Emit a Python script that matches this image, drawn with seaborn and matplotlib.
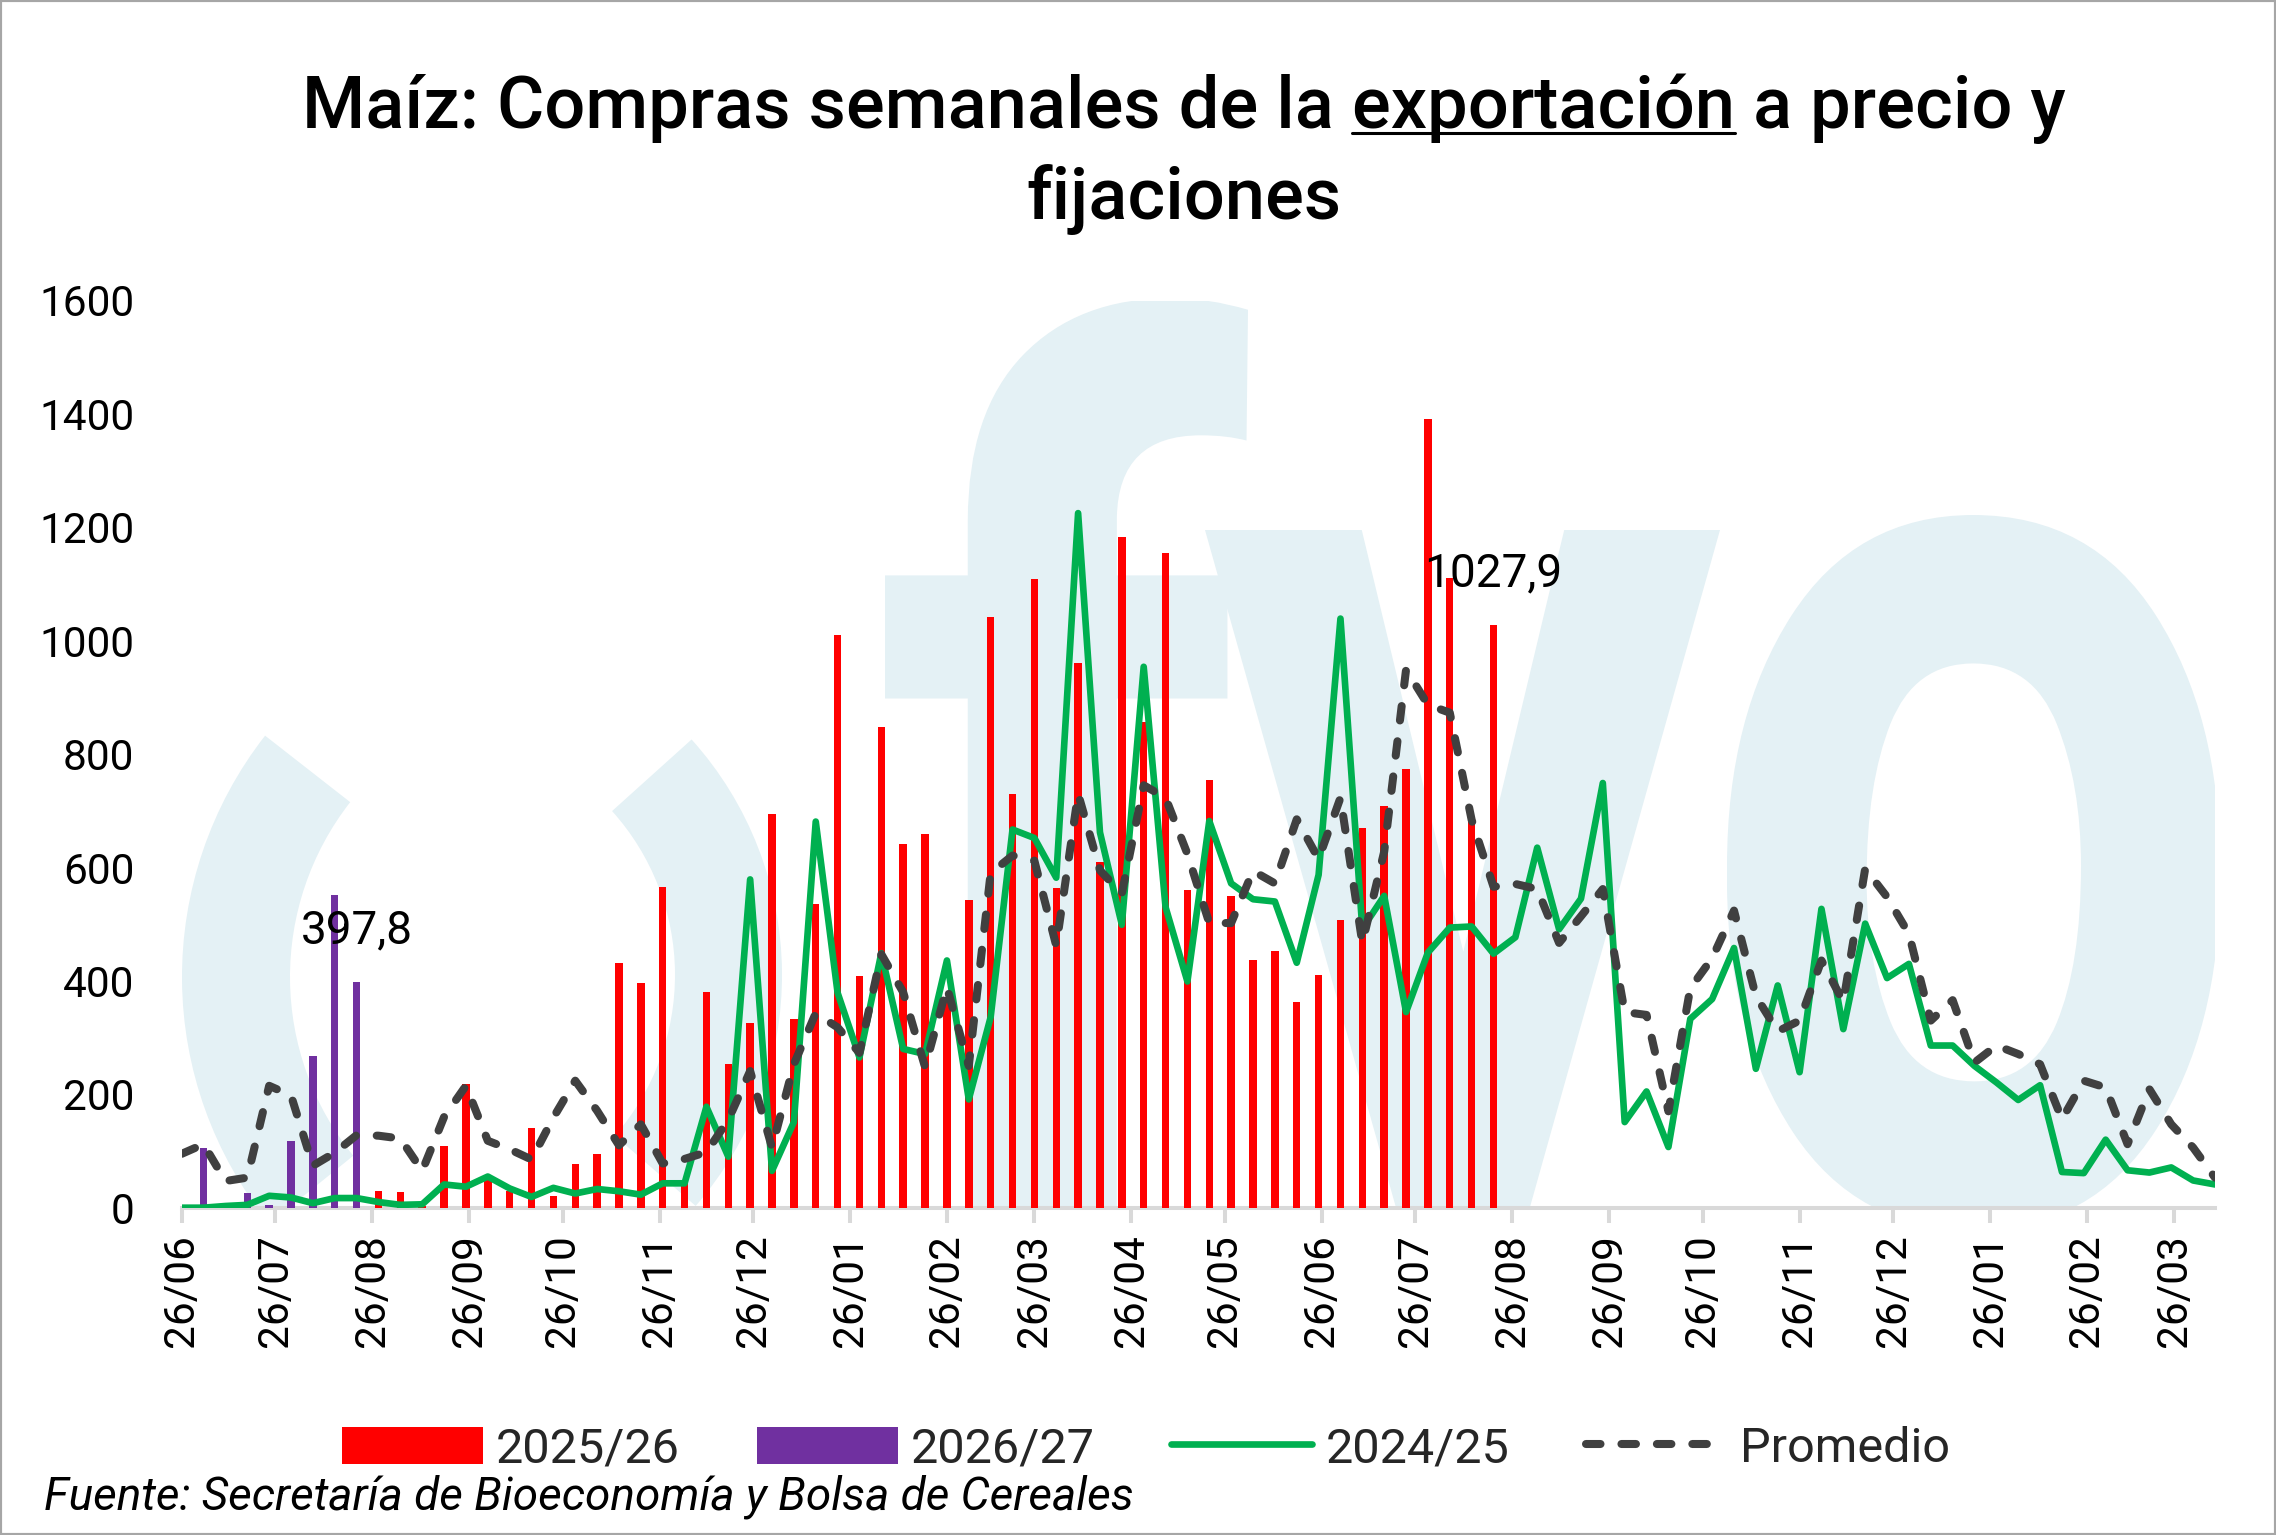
import numpy as np
import pandas as pd
import matplotlib
matplotlib.use("Agg")
import matplotlib.pyplot as plt
import seaborn as sns
from matplotlib import font_manager as fm
from matplotlib.patches import Patch, Wedge, PathPatch, Rectangle
from matplotlib.lines import Line2D
from matplotlib.textpath import TextPath
from matplotlib.path import Path
from matplotlib.font_manager import FontProperties

# ---------------- data ----------------
start_date = "2025-06-26"
tick_labels = ["26/06", "26/07", "26/08", "26/09", "26/10", "26/11", "26/12",
               "26/01", "26/02", "26/03", "26/04", "26/05", "26/06", "26/07",
               "26/08", "26/09", "26/10", "26/11", "26/12", "26/01", "26/02", "26/03"]
y_ticks = [0, 200, 400, 600, 800, 1000, 1200, 1400, 1600]

serie_2025_26 = [5, 0, 8, 0, 3, 0, 0, 0, 0, 30,
                 27, 3, 108, 218, 56, 30, 141, 20, 77, 94,
                 431, 397, 566, 45, 380, 254, 326, 695, 333, 535,
                 1010, 409, 848, 641, 659, 370, 543, 1042, 730, 1109,
                 563, 960, 610, 1183, 857, 1154, 560, 755, 549, 436,
                 452, 363, 410, 507, 670, 708, 774, 1391, 1111, 680,
                 1027.9]
serie_2026_27 = [None, 106, None, 26, 5, 118, 267, 552, 397.8]
serie_2024_25 = [0, 0, 3, 5, 21, 18, 8, 17, 17, 10,
                 5, 6, 41, 37, 55, 34, 19, 35, 25, 33,
                 29, 23, 43, 43, 178, 90, 579, 65, 151, 681,
                 379, 265, 449, 280, 271, 436, 191, 336, 667, 652,
                 582, 1225, 662, 499, 954, 530, 399, 682, 572, 544,
                 540, 432, 587, 1039, 492, 550, 345, 450, 494, 496,
                 448, 477, 635, 491, 545, 749, 151, 205, 107, 333,
                 368, 458, 245, 392, 239, 527, 315, 501, 405, 430,
                 286, 286, 250, 221, 190, 216, 63, 61, 120, 66,
                 62, 71, 48, 41]
promedio = [95, 112, 47, 53, 215, 198, 74, 97, 128, 127,
            122, 65, 160, 215, 118, 103, 85, 159, 224, 171,
            110, 147, 78, 86, 98, 155, 241, 106, 253, 343,
            318, 273, 447, 380, 248, 389, 250, 590, 621, 612,
            462, 730, 595, 554, 745, 723, 624, 502, 502, 594,
            572, 685, 615, 723, 467, 628, 949, 887, 873, 684,
            566, 571, 562, 467, 514, 562, 345, 340, 170, 387,
            440, 524, 373, 311, 330, 436, 363, 598, 548, 483,
            330, 366, 256, 286, 271, 253, 156, 224, 212, 112,
            209, 147, 106, 53]
series_names = ["2025/26", "2026/27", "2024/25", "Promedio"]

# ---------------- style ----------------
RED, PURPLE, GREEN, DARK = "#FF0000", "#7030A0", "#00B050", "#404040"
AXIS_GRAY = "#D9D9D9"
WM = "#E4F1F5"
GREEN_LW, DASH_LW, DASH_PAT = 4.8, 5.8, (1.8, 2.6)

sns.set_style("white")
ttf = fm.fontManager.ttflist
names = {f.name for f in ttf}
BASE = "Roboto"
has_medium = any(f.name == "Roboto" and str(f.weight) in ("500", "medium") for f in ttf)
if "Liberation Sans Narrow" in names:
    TITLE_FONT, TITLE_SIZE, TITLE_W = "Liberation Sans Narrow", 59, "normal"
else:
    TITLE_FONT, TITLE_SIZE, TITLE_W = "Roboto", 52, ("medium" if has_medium else "normal")
plt.rcParams["font.family"] = [BASE, "DejaVu Sans"]

W, H, DPI = 2276, 1535, 100
fig = plt.figure(figsize=(W / DPI, H / DPI), dpi=DPI)
fig.patch.set_facecolor("white")
ax = fig.add_axes([181.7 / W, 1 - 1207.7 / H, (2215 - 181.7) / W, (1207.7 - 300.5) / H])
ax.set_facecolor("white")

# ---------------- watermark (logo) ----------------
def inch(x, y):
    return (x / DPI, (H - y) / DPI)

ax.add_patch(Wedge(inch(574, 977), 3.92, 142, 219, width=1.08, transform=fig.dpi_scale_trans,
                   facecolor=WM, edgecolor="none", zorder=0.5))
ax.add_patch(Wedge(inch(430, 975), 3.52, -41, 42, width=1.07, transform=fig.dpi_scale_trans,
                   facecolor=WM, edgecolor="none", zorder=0.5))

def glyph(ch, x0, x1, ytop, ybot, use_bbox_bottom=False):
    tp = TextPath((0, 0), ch, size=100, prop=FontProperties(family="Roboto", weight="bold"))
    ext = tp.get_extents()
    v = tp.vertices.copy()
    y0 = ext.y0 if use_bbox_bottom else 0.0
    sx = (x1 - x0) / (ext.x1 - ext.x0)
    sy = (ybot - ytop) / (ext.y1 - y0)
    px = x0 + (v[:, 0] - ext.x0) * sx
    py = ybot - (v[:, 1] - y0) * sy
    verts = np.column_stack([px / DPI, (H - py) / DPI])
    ax.add_patch(PathPatch(Path(verts, tp.codes), transform=fig.dpi_scale_trans,
                           facecolor=WM, edgecolor="none", zorder=0.5))

glyph("f", 885, 1248, 298, 1207)
glyph("y", 1205, 1720, 530, 1207)
glyph("o", 1727, 2220, 515, 1230, use_bbox_bottom=True)

# ---------------- data frames ----------------
start = pd.Timestamp(start_date)
weeks = np.arange(len(serie_2024_25))
df_red = pd.DataFrame({"semana": np.arange(len(serie_2025_26)), "valor": serie_2025_26})
df_pur = pd.DataFrame({"semana": np.arange(len(serie_2026_27)),
                       "valor": pd.to_numeric(pd.Series(serie_2026_27), errors="coerce")}).dropna()
df_lines = pd.DataFrame({"semana": weeks, "v2425": serie_2024_25, "prom": promedio})

sns.barplot(data=df_red, x="semana", y="valor", native_scale=True, color=RED, saturation=1,
            width=0.34, errorbar=None, linewidth=0, ax=ax, zorder=2)
sns.barplot(data=df_pur, x="semana", y="valor", native_scale=True, color=PURPLE, saturation=1,
            width=0.34, errorbar=None, linewidth=0, ax=ax, zorder=2.1)
sns.lineplot(data=df_lines, x="semana", y="v2425", color=GREEN, ax=ax, zorder=3)
gline = ax.lines[-1]
sns.lineplot(data=df_lines, x="semana", y="prom", color=DARK, ax=ax, zorder=4)
dline = ax.lines[-1]
gline.set_linewidth(GREEN_LW)
gline.set_solid_joinstyle("round")
dline.set_linewidth(DASH_LW)
dline.set_dashes(DASH_PAT)
dline.set_dash_capstyle("round")
dline.set_dash_joinstyle("round")

# data labels (last value of each current series)
for vals in (serie_2026_27, serie_2025_26):
    idx = max(i for i, v in enumerate(vals) if v is not None)
    ax.annotate(f"{vals[idx]:.1f}".replace(".", ","), xy=(idx, vals[idx]), xytext=(0, 37),
                textcoords="offset points", ha="center", va="center", fontsize=33,
                color="black", zorder=6)

# ---------------- axes ----------------
tick_dates = pd.date_range(start, periods=len(tick_labels), freq=pd.DateOffset(months=1))
tick_pos = [(d - start).days / 7 for d in tick_dates]
ax.set_xlim(0, len(weeks) - 1)
ax.set_ylim(0, 1600)
ax.set_xticks(tick_pos)
ax.set_xticklabels(tick_labels, rotation=90)
ax.set_yticks(y_ticks)
ax.set_yticklabels([str(v) for v in y_ticks])
ax.set_xlabel("")
ax.set_ylabel("")
ax.grid(False)
for s in ("left", "top", "right"):
    ax.spines[s].set_visible(False)
ax.spines["bottom"].set_color(AXIS_GRAY)
ax.spines["bottom"].set_linewidth(2.9)
ax.spines["bottom"].set_zorder(1)
ax.tick_params(axis="x", length=10.8, width=2.9, color=AXIS_GRAY, pad=8, labelsize=30.5,
               labelcolor="black", direction="out", bottom=True)
ax.tick_params(axis="y", length=0, pad=34, labelsize=30.5, labelcolor="black", left=False)

# ---------------- legend ----------------
handles = [Patch(facecolor=RED, edgecolor="none"),
           Patch(facecolor=PURPLE, edgecolor="none"),
           Line2D([], [], color=GREEN, lw=GREEN_LW),
           Line2D([], [], color=DARK, lw=DASH_LW, dashes=DASH_PAT, dash_capstyle="round")]
fig.legend(handles, series_names, loc="center", bbox_to_anchor=(0.5035, 0.056), ncol=4,
           frameon=False, fontsize=35, handlelength=2.9, handleheight=0.8,
           handletextpad=0.27, columnspacing=1.58)

fig.text(44 / W, 1 - 1497 / H, "Fuente: Secretaría de Bioeconomía y Bolsa de Cereales",
         fontsize=33, style="italic", ha="left", va="center", color="black")

# ---------------- title ----------------
line1 = "Maíz: Compras semanales de la exportación a precio y"
line2 = "fijaciones"
tkw = dict(fontsize=TITLE_SIZE, family=[TITLE_FONT, "DejaVu Sans"], fontweight=TITLE_W, color="black")
t1 = fig.text(1184 / W, 1 - 128 / H, line1, ha="center", va="baseline", **tkw)
fig.text(1184 / W, 1 - 219 / H, line2, ha="center", va="baseline", **tkw)

fig.canvas.draw()
renderer = fig.canvas.get_renderer()

def textw(s):
    t = fig.text(0, 0, s, **tkw)
    w = t.get_window_extent(renderer).width
    t.remove()
    return w

bb = t1.get_window_extent(renderer)
x_end = bb.x0 + textw("Maíz: Compras semanales de la exportación")
x_start = x_end - textw("exportación")
uy = 1 - 133 / H
fig.add_artist(Line2D([x_start / W, x_end / W], [uy, uy], transform=fig.transFigure,
                      color="black", lw=2.2))

fig.add_artist(Rectangle((0, 0), 1, 1, transform=fig.transFigure, fill=False,
                         edgecolor="#A6A6A6", lw=3))

fig.savefig("out.png", dpi=DPI, facecolor="white")
